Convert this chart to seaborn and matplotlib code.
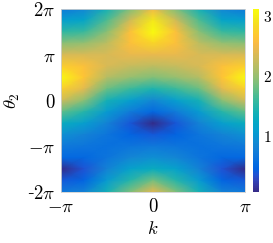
import numpy as np
import pandas as pd
import matplotlib
matplotlib.use("Agg")
import matplotlib.pyplot as plt
import seaborn as sns
from matplotlib.colors import LinearSegmentedColormap

# grid: k in steps of pi/4, theta_2 from 2pi (top) to -2pi (bottom) in steps of pi/4
k_names = ["-π", "-3π/4", "-π/2", "-π/4", "0", "π/4", "π/2", "3π/4", "π"]
theta_names = ["2π", "7π/4", "3π/2", "5π/4", "π", "3π/4", "π/2", "π/4", "0",
               "-π/4", "-π/2", "-3π/4", "-π", "-5π/4", "-3π/2", "-7π/4", "-2π"]

# values per column, top to bottom (map is mirror symmetric in k)
col_k0 = [2.50, 2.95, 3.12, 2.80, 2.45, 2.20, 1.90, 1.45, 0.85,
          0.50, 0.07, 0.40, 0.70, 0.95, 1.30, 1.85, 2.45]
col_k_quarter = [1.90, 2.30, 2.60, 2.60, 2.45, 2.25, 2.00, 1.60, 1.10,
                 0.72, 0.38, 0.48, 0.65, 0.85, 1.15, 1.50, 1.90]
col_k_half = [1.40, 1.70, 1.95, 2.20, 2.35, 2.35, 2.15, 1.80, 1.40,
              1.05, 0.80, 0.65, 0.60, 0.65, 0.80, 1.05, 1.40]
col_k_3quarter = [0.85, 1.20, 1.60, 2.00, 2.35, 2.60, 2.65, 2.40, 1.95,
                  1.50, 1.10, 0.80, 0.65, 0.50, 0.36, 0.48, 0.80]
col_k_pi = [0.70, 1.10, 1.55, 1.95, 2.35, 2.75, 3.10, 2.75, 2.30,
            1.75, 1.30, 0.95, 0.70, 0.50, 0.07, 0.40, 0.70]

x_ticklabels = [r"$-\pi$", r"$0$", r"$\pi$"]
y_ticklabels = [r"$2\pi$", r"$\pi$", r"$0$", r"$-\pi$", r"-$2\pi$"]
cbar_ticks = [1, 2, 3]

# MATLAB parula (every other entry of the 64-colour table)
parula_rgb = [
    (0.2081, 0.1663, 0.5292), (0.2123, 0.2138, 0.6270), (0.1959, 0.2645, 0.7279),
    (0.1253, 0.3242, 0.8303), (0.0117, 0.3875, 0.8820), (0.0165, 0.4266, 0.8786),
    (0.0498, 0.4586, 0.8641), (0.0723, 0.4887, 0.8467), (0.0793, 0.5200, 0.8312),
    (0.0641, 0.5570, 0.8240), (0.0343, 0.5966, 0.8199), (0.0239, 0.6287, 0.8038),
    (0.0228, 0.6535, 0.7768), (0.0384, 0.6743, 0.7436), (0.0843, 0.6928, 0.7062),
    (0.1453, 0.7098, 0.6646), (0.2178, 0.7250, 0.6193), (0.3022, 0.7376, 0.5712),
    (0.3953, 0.7459, 0.5244), (0.4871, 0.7491, 0.4840), (0.5709, 0.7485, 0.4494),
    (0.6473, 0.7456, 0.4188), (0.7184, 0.7411, 0.3905), (0.7858, 0.7356, 0.3633),
    (0.8507, 0.7299, 0.3360), (0.9139, 0.7258, 0.3063), (0.9739, 0.7314, 0.2666),
    (0.9990, 0.7653, 0.2164), (0.9880, 0.8066, 0.1794), (0.9697, 0.8481, 0.1475),
    (0.9589, 0.8949, 0.1132), (0.9661, 0.9514, 0.0755), (0.9763, 0.9831, 0.0538),
]
parula = LinearSegmentedColormap.from_list("parula", parula_rgb)

# table: rows = theta_2, columns = k
columns = [col_k_pi, col_k_3quarter, col_k_half, col_k_quarter, col_k0,
           col_k_quarter, col_k_half, col_k_3quarter, col_k_pi]
table = pd.DataFrame(np.array(columns).T, index=theta_names, columns=k_names)

plt.rcParams["mathtext.fontset"] = "cm"
plt.rcParams["font.family"] = ["DejaVu Serif"]

fig = plt.figure(figsize=(2.73, 2.43), dpi=100)
ax = fig.add_axes([61 / 273, 51 / 243, 184 / 273, 183 / 243])
cax = fig.add_axes([253 / 273, 51 / 243, 6 / 273, 183 / 243])

sns.heatmap(table, ax=ax, cbar_ax=cax, cmap=parula,
            vmin=table.values.min(), vmax=table.values.max(),
            xticklabels=False, yticklabels=False, shading="gouraud")

# gouraud puts the values on the cell corners, so the map spans 0..n-1
ax.set_xlim(0, len(k_names) - 1)
ax.set_ylim(len(theta_names) - 1, 0)

ax.set_xticks([0, 4, 8])
ax.set_xticklabels(x_ticklabels)
ax.set_yticks([0, 4, 8, 12, 16])
ax.set_yticklabels(y_ticklabels, rotation=0)
ax.tick_params(length=0, labelsize=13.5, pad=4)
ax.set_xlabel(r"$k$", fontsize=13.5, labelpad=3)
ax.set_ylabel(r"$\theta_2$", fontsize=13.5, labelpad=4)
for s in ax.spines.values():
    s.set_visible(True)
    s.set_color("#d0d0d0")
    s.set_linewidth(0.6)

cax.set_yticks(cbar_ticks)
cax.set_yticklabels([rf"${t}$" for t in cbar_ticks])
cax.tick_params(length=0, labelsize=11, pad=3)

fig.savefig("out.png", dpi=100)
